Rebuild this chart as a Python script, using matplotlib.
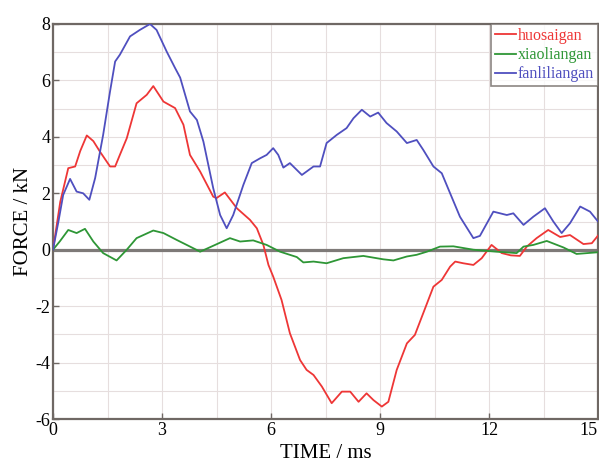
import numpy as np
import matplotlib
matplotlib.use("Agg")
import matplotlib.pyplot as plt

# ---- data ----
t_red = [0, 0.2, 0.42, 0.61, 0.75, 0.93, 1.11, 1.29, 1.57, 1.71, 1.84, 2.03, 2.30, 2.58, 2.76,
         3.04, 3.36, 3.59, 3.77, 4.05, 4.41, 4.5, 4.73, 5.06, 5.42, 5.61, 5.79, 5.93, 6.06, 6.29,
         6.52, 6.80, 6.98, 7.17, 7.40, 7.67, 7.95, 8.18, 8.41, 8.63, 8.82, 9.05, 9.23, 9.46, 9.74,
         9.96, 10.19, 10.47, 10.70, 10.93, 11.07, 11.29, 11.57, 11.80, 12.07, 12.35, 12.60, 12.85,
         13.04, 13.31, 13.63, 13.96, 14.23, 14.6, 14.83, 15.0]
v_red = [0, 1.7, 2.89, 2.95, 3.5, 4.05, 3.85, 3.48, 2.95, 2.95, 3.36, 3.95, 5.19, 5.49, 5.80,
         5.25, 5.02, 4.43, 3.36, 2.77, 1.88, 1.83, 2.03, 1.47, 1.06, 0.76, 0.17, -0.54, -0.95, -1.78,
         -2.96, -3.91, -4.26, -4.44, -4.85, -5.44, -5.03, -5.03, -5.39, -5.09, -5.33, -5.56, -5.39,
         -4.26, -3.32, -3.02, -2.25, -1.31, -1.07, -0.60, -0.42, -0.48, -0.54, -0.30, 0.17, -0.12,
         -0.20, -0.22, 0.11, 0.41, 0.70, 0.45, 0.52, 0.20, 0.23, 0.50]

t_green = [0, 0.19, 0.42, 0.65, 0.88, 1.11, 1.38, 1.75, 2.03, 2.30, 2.76, 3.04, 3.40, 3.68, 4.05,
           4.41, 4.87, 5.15, 5.51, 5.88, 6.25, 6.71, 6.89, 7.17, 7.53, 7.99, 8.54, 9.09, 9.37,
           9.74, 10.01, 10.29, 10.65, 11.02, 11.57, 12.21, 12.76, 12.95, 13.22, 13.59, 14.05,
           14.41, 15.0]
v_green = [0, 0.3, 0.70, 0.59, 0.74, 0.29, -0.12, -0.38, 0.0, 0.41, 0.68, 0.59, 0.35, 0.17, -0.07,
           0.14, 0.41, 0.29, 0.33, 0.17, -0.07, -0.26, -0.45, -0.42, -0.48, -0.30, -0.22, -0.34,
           -0.38, -0.24, -0.18, -0.07, 0.11, 0.12, 0.0, -0.07, -0.12, 0.11, 0.17, 0.31, 0.08,
           -0.15, -0.09]

t_blue = [0, 0.15, 0.28, 0.47, 0.65, 0.83, 1.00, 1.16, 1.38, 1.57, 1.71, 1.84, 2.12, 2.39, 2.67,
          2.85, 3.13, 3.36, 3.50, 3.77, 3.96, 4.14, 4.41, 4.60, 4.78, 4.96, 5.24, 5.47, 5.70,
          5.88, 6.06, 6.20, 6.34, 6.52, 6.85, 7.17, 7.35, 7.53, 7.81, 8.08, 8.27, 8.50, 8.73,
          8.95, 9.18, 9.46, 9.74, 10.01, 10.19, 10.47, 10.70, 10.93, 11.20, 11.57, 11.75, 12.12,
          12.49, 12.67, 12.95, 13.22, 13.54, 13.77, 14.00, 14.23, 14.51, 14.78, 15.0]
v_blue = [0, 1.0, 1.94, 2.51, 2.06, 2.00, 1.77, 2.54, 4.07, 5.61, 6.67, 6.91, 7.56, 7.79, 8.0,
          7.79, 7.02, 6.44, 6.1, 4.90, 4.60, 3.83, 2.18, 1.23, 0.76, 1.23, 2.30, 3.07, 3.24,
          3.36, 3.60, 3.36, 2.91, 3.07, 2.65, 2.95, 2.95, 3.78, 4.07, 4.31, 4.66, 4.96, 4.72,
          4.86, 4.49, 4.19, 3.78, 3.89, 3.54, 2.95, 2.71, 2.00, 1.17, 0.41, 0.49, 1.35, 1.23,
          1.29, 0.88, 1.17, 1.47, 1.00, 0.59, 0.94, 1.53, 1.35, 1.00]

series_names = ["huosaigan", "xiaoliangan", "fanliliangan"]
series_colors = ["#ee3636", "#2e9636", "#4f4fbf"]
x_ticks = [0, 3, 6, 9, 12, 15]
y_ticks = [-6, -4, -2, 0, 2, 4, 6, 8]

plt.rcParams["font.family"] = ["Liberation Serif", "DejaVu Serif"]
plt.rcParams["axes.unicode_minus"] = False

fig = plt.figure(figsize=(5.99, 4.71), dpi=100)
ax = fig.add_axes([53 / 599, 52 / 471, 545 / 599, 395 / 471])

ax.set_xlim(0, 15)
ax.set_ylim(-6, 8)
ax.set_xticks(x_ticks)
ax.set_yticks(y_ticks)
ax.set_xticks(np.arange(0, 15.01, 1.5), minor=True)
ax.set_yticks(np.arange(-6, 8.01, 1), minor=True)
ax.grid(True, which="both", color="#e6dede", lw=0.8, zorder=0)
ax.axhline(0, color="#7e7a78", lw=2.3, zorder=2)

for (tt, vv), name, col in zip([(t_red, v_red), (t_green, v_green), (t_blue, v_blue)],
                               series_names, series_colors):
    ax.plot(tt, vv, color=col, lw=1.3, label=name, zorder=3)

for s in ax.spines.values():
    s.set_color("#6f6864")
    s.set_linewidth(1.6)

ax.tick_params(which="major", direction="in", length=4, width=1, color="#6f6864",
               labelsize=13, pad=2)
ax.tick_params(which="minor", length=0)
xlabels = ax.get_xticklabels()
xlabels[-1].set_horizontalalignment("right")

ax.set_xlabel("TIME / ms", fontsize=15, labelpad=4)
ax.set_ylabel("FORCE / kN", fontsize=15, labelpad=2)

leg = ax.legend(loc="upper right", fontsize=11.5, frameon=True, fancybox=False,
                borderaxespad=0, handlelength=1.3, handletextpad=0.1, labelspacing=0.2,
                borderpad=0.25)
leg.get_frame().set_edgecolor("#6f6864")
leg.get_frame().set_linewidth(1.2)
for txt, col in zip(leg.get_texts(), series_colors):
    txt.set_color(col)

fig.savefig("out.png", dpi=100)
